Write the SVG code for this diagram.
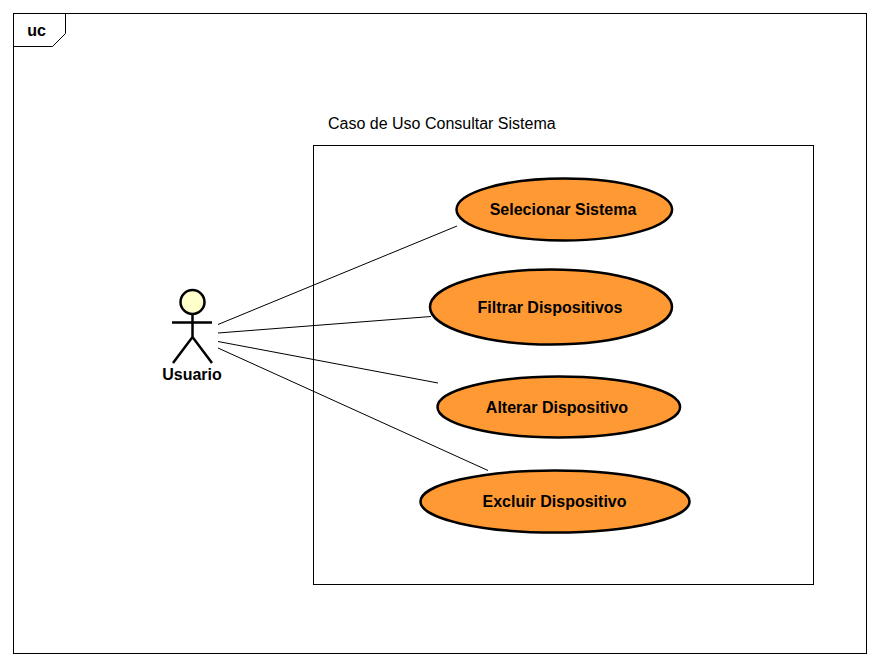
<svg xmlns="http://www.w3.org/2000/svg" width="880" height="666" viewBox="0 0 880 666">
<style>
text{font-family:"Liberation Sans",Arial,sans-serif;font-size:16px;fill:#000}
.b{font-weight:bold;text-anchor:middle}
.f{fill:none;stroke:#000;stroke-width:1}
.uc ellipse{fill:#ff9933;stroke:#000;stroke-width:2.5}
.a{fill:none;stroke:#000;stroke-width:2.5}
</style>
<rect width="880" height="666" fill="#fff"/>
<g id="frame">
<rect class="f" x="13.5" y="13.5" width="853" height="640"/>
<path class="f" d="M13.5 46.5H52.5L65.5 33.5V13.5"/>
<text class="b" x="36.500" y="36">uc</text>
</g>
<g id="boundary">
<rect class="f" x="313.5" y="145.5" width="500" height="439"/>
<text x="328" y="129">Caso de Uso Consultar Sistema</text>
</g>
<g id="connectors">
<path class="f" d="M218 324.500L457 226"/>
<path class="f" d="M218 333L431 316.500"/>
<path class="f" d="M218 341.500L438 383"/>
<path class="f" d="M218 348L488 470.500"/>
</g>
<g id="actor">
<circle cx="192.500" cy="302" r="12" fill="#ffffcc" stroke="#000" stroke-width="2.500"/>
<path class="a" d="M192.500 314V337M172 322.500H212M173 363L192.500 337L212 363"/>
<text class="b" x="192" y="380">Usuario</text>
</g>
<g id="uc1" class="uc"><ellipse cx="564.300" cy="209.500" rx="107.800" ry="31"/><text class="b" x="563" y="214.500">Selecionar Sistema</text></g>
<g id="uc2" class="uc"><ellipse cx="551" cy="307" rx="121" ry="37.500"/><text class="b" x="550" y="312.500">Filtrar Dispositivos</text></g>
<g id="uc3" class="uc"><ellipse cx="558.800" cy="407" rx="121.300" ry="30.500"/><text class="b" x="557" y="412.500">Alterar Dispositivo</text></g>
<g id="uc4" class="uc"><ellipse cx="555" cy="501.500" rx="134.500" ry="31"/><text class="b" x="554.500" y="506.500">Excluir Dispositivo</text></g>
</svg>
